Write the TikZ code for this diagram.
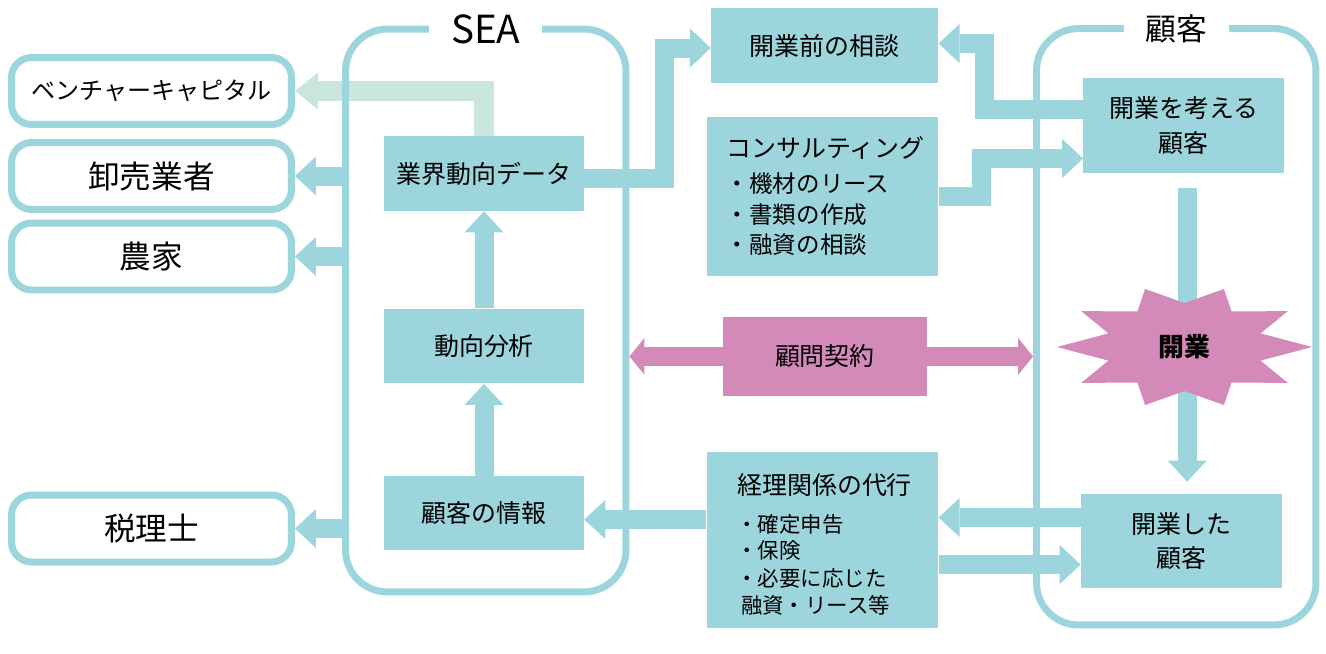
\documentclass[tikz,border=0pt]{standalone}
\usepackage{fontspec}
\setmainfont{Noto Sans CJK JP}
\usetikzlibrary{arrows.meta,calc}
\definecolor{aomidori}{HTML}{9DD5DC}
\definecolor{momo}{HTML}{D48AB8}
\definecolor{usumidori}{HTML}{C8E6DE}
\begin{document}
\begin{tikzpicture}[x=0.02cm, y=-0.02cm,
	font=\fontsize{14.2}{19.8}\selectfont,
	box/.style={fill=aomidori, inner sep=0pt, minimum width=4cm, minimum height=1.5cm, align=center},
	partner/.style={draw=aomidori, fill=white, line width=0.14cm, rounded corners=0.4cm, minimum width=5.6cm, minimum height=1.34cm, font=\fontsize{18}{22}\selectfont},
	group/.style={draw=aomidori, line width=0.14cm, rounded corners=0.84cm, inner sep=0pt},
	grouplabel/.style={fill=white, inner xsep=0.44cm, inner ysep=1pt},
	item/.style={anchor=west, inner sep=0pt},
	flow/.style={aomidori, line width=0.38cm, -{Triangle[width=0.78cm,length=0.42cm,line width=0pt]}},
	mintflow/.style={usumidori, line width=0.4cm, -{Triangle[width=0.74cm,length=0.46cm,line width=0pt]}},
	pinkflow/.style={momo, line width=0.38cm, -{Triangle[width=0.74cm,length=0.3cm,line width=0pt]}}]
	
	\useasboundingbox (0,0) rectangle (1326,653);
	
	% partners on the left
	\node[partner, font=\fontsize{13.7}{16}\selectfont] (vc) at (151.5,91) {ベンチャーキャピタル};
	\node[partner] (oroshi) at (151.5,176) {卸売業者};
	\node[partner] (nouka) at (151.5,256.5) {農家};
	\node[partner] (zeiri) at (151.5,528.5) {税理士};
	
	% SEA
	\node[box] (gyokai) at (484,173.5) {業界動向データ};
	\node[box] (bunseki) at (484,346) {動向分析};
	\node[box, minimum height=1.48cm] (joho) at (484,513) {顧客の情報};
	
	% services
	\node[box, minimum width=4.54cm] (soudan) at (824.7,45.5) {開業前の相談};
	\node[box, minimum width=4.63cm, minimum height=3.18cm] (consul) at (822.5,196.5) {};
	\node[box, fill=momo, minimum width=4.08cm, minimum height=1.59cm] (komon) at (824.9,356.4) {顧問契約};
	\node[box, minimum width=4.63cm, minimum height=3.52cm] (keiri) at (822.5,540) {};
	
	\node (consultitle) at (825.6,148) {コンサルティング};
	\foreach \t/\y in {・機材のリース/184, ・書類の作成/214.3, ・融資の相談/245}
		\node[item, font=\fontsize{13.4}{16}\selectfont] at (725.5,\y) {\t};
	\node (keiritle) at (824.6,485) {経理関係の代行};
	\foreach \t/\y in {・確定申告/524, ・保険/550.7, ・必要に応じた/578.3}
		\node[item, font=\fontsize{12.2}{15}\selectfont] at (736.2,\y) {\t};
	\node[item, font=\fontsize{12.2}{15}\selectfont] at (740.7,605.7) {融資・リース等};
	
	% customers
	\node[box, minimum width=4.01cm, minimum height=1.9cm] (kangaeru) at (1183.7,125.5) {開業を考える\\顧客};
	\node[box, minimum width=4.02cm, minimum height=1.88cm] (shita) at (1181.5,541) {開業した\\顧客};
	
	\draw[mintflow] (gyokai.north) |- (vc.east);
	
	% groups
	\node[group, minimum width=5.61cm, minimum height=11.26cm] (sea) at (485.75,310.5) {};
	\node[group, minimum width=5.59cm, minimum height=11.93cm] (kokyaku) at (1176.25,326.75) {};
	\node[grouplabel, font=\fontsize{22}{24}\selectfont] at ([yshift=-0.08cm]sea.north) {SEA};
	\node[grouplabel, font=\fontsize{17.5}{20}\selectfont] at ([yshift=-0.08cm]kokyaku.north) {顧客};
	
	\draw[flow] (sea.west |- oroshi.east) -- (oroshi.east);
	\draw[flow] (sea.west |- nouka.east) -- (nouka.east);
	\draw[flow] (sea.west |- zeiri.east) -- (zeiri.east);
	\draw[flow] (bunseki.north) -- (gyokai.south);
	\draw[flow] (joho.north) -- (bunseki.south);
	
	\draw[flow] ([yshift=-0.1cm]gyokai.east) -| ([xshift=-0.93cm,yshift=-0.05cm]soudan.west) -- ([yshift=-0.05cm]soudan.west);
	\draw[flow] ([yshift=0.32cm]kangaeru.west) -| ([xshift=0.92cm,yshift=0.04cm]soudan.east) -- ([yshift=0.04cm]soudan.east);
	\draw[flow] (consul.east) -| ([xshift=-2.03cm,yshift=-0.66cm]kangaeru.west) -- ([yshift=-0.66cm]kangaeru.west);
	
	\draw[flow] ([yshift=0.41cm]keiri.west) coordinate (k0) -- (k0 -| joho.east);
	\draw[flow] ([yshift=0.47cm]shita.west) coordinate (s0) -- (s0 -| keiri.east);
	\draw[flow] ([yshift=-0.49cm]keiri.east) coordinate (k1) -- (k1 -| shita.west);
	
	\draw[pinkflow] (komon.west) -- (komon.west -| sea.east);
	\draw[pinkflow] (komon.east) -- (komon.east -| kokyaku.west);
	
	\draw[flow, shorten <=0.3cm, shorten >=0.24cm] ([xshift=0.07cm]kangaeru.south) coordinate (d0) -- (d0 |- shita.north);
	
	% opening
	\coordinate (burst) at (1184.5,347);
	\begin{scope}[shift={(burst)}]
		\fill[momo] (0:127.6 and 61) \foreach \i [evaluate=\i as \rx using {mod(\i,2)==0 ? 127.6 : 80}, evaluate=\i as \ry using {mod(\i,2)==0 ? 61 : 44}] in {1,...,19} { -- ({\i*18}:{\rx} and {\ry}) } -- cycle;
	\end{scope}
	\node[font=\bfseries\fontsize{14.7}{17}\selectfont] (kaigyo) at (burst) {開業};
\end{tikzpicture}
\end{document}
